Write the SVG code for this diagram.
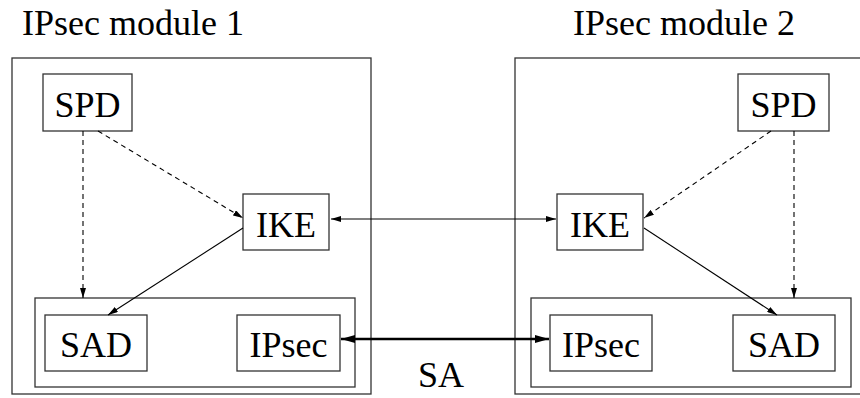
<svg xmlns="http://www.w3.org/2000/svg" width="860" height="398" viewBox="0 0 860 398">
<defs>
<style>
.box{fill:none;stroke:#333;stroke-width:1.3}
text{font-family:'Liberation Serif','Times New Roman',Times,serif;font-size:36px;fill:#000}
.lbl{text-anchor:middle}
.e{fill:none;stroke:#000;stroke-width:1.1}
.d{stroke-dasharray:5,4}
.thick{stroke-width:2.6}
</style>
<marker id="ah" viewBox="0 0 10 6" refX="10" refY="3" markerWidth="10" markerHeight="6" markerUnits="userSpaceOnUse" orient="auto-start-reverse"><path d="M0,0 L10,3 L0,6 z" fill="#000"/></marker>
<marker id="ahb" viewBox="0 0 14 8" refX="14" refY="4" markerWidth="14" markerHeight="8" markerUnits="userSpaceOnUse" orient="auto-start-reverse"><path d="M0,0 L14,4 L0,8 z" fill="#000"/></marker>
</defs>
<rect width="860" height="398" fill="#fff"/>
<g id="module1">
<text font-family="Liberation Serif, serif" x="22" y="35">IPsec module 1</text>
<rect class="box" x="12" y="58" width="359" height="336"/>
<rect class="box" x="35" y="298" width="320" height="89"/>
</g>
<g id="spd1"><rect class="box" x="43" y="74" width="89" height="57"/><text class="lbl" x="87.5" y="117">SPD</text></g>
<g id="ike1"><rect class="box" x="243" y="194" width="86" height="56"/><text class="lbl" x="286" y="237">IKE</text></g>
<g id="sad1"><rect class="box" x="45" y="315" width="102" height="56"/><text class="lbl" x="96" y="357">SAD</text></g>
<g id="ipsec1"><rect class="box" x="237" y="315" width="103" height="56"/><text class="lbl" x="288.5" y="357">IPsec</text></g>
<g id="module2">
<text x="573" y="35">IPsec module 2</text>
<rect class="box" x="515" y="58" width="359" height="336"/>
<rect class="box" x="531" y="298" width="320" height="89"/>
</g>
<g id="spd2"><rect class="box" x="738" y="74" width="91" height="57"/><text class="lbl" x="783.5" y="117">SPD</text></g>
<g id="ike2"><rect class="box" x="557" y="194" width="86" height="56"/><text class="lbl" x="600" y="237">IKE</text></g>
<g id="ipsec2"><rect class="box" x="550" y="315" width="102" height="56"/><text class="lbl" x="601" y="357">IPsec</text></g>
<g id="sad2"><rect class="box" x="733" y="315" width="102" height="56"/><text class="lbl" x="784" y="357">SAD</text></g>
<g id="connectors">
<line class="e d" x1="83" y1="131" x2="83" y2="298" marker-end="url(#ah)"/>
<line class="e d" x1="98" y1="131" x2="243" y2="218" marker-end="url(#ah)"/>
<line class="e" x1="243" y1="228" x2="108" y2="315" marker-end="url(#ah)"/>
<line class="e" x1="331" y1="219" x2="556" y2="219" marker-start="url(#ah)" marker-end="url(#ah)"/>
<line class="e thick" x1="341" y1="339" x2="549" y2="339" marker-start="url(#ahb)" marker-end="url(#ahb)"/>
<line class="e d" x1="771" y1="131" x2="644" y2="218" marker-end="url(#ah)"/>
<line class="e d" x1="794" y1="131" x2="794" y2="298" marker-end="url(#ah)"/>
<line class="e" x1="644" y1="228" x2="777" y2="315" marker-end="url(#ah)"/>
<text class="lbl" x="441" y="387">SA</text>
</g>
</svg>
